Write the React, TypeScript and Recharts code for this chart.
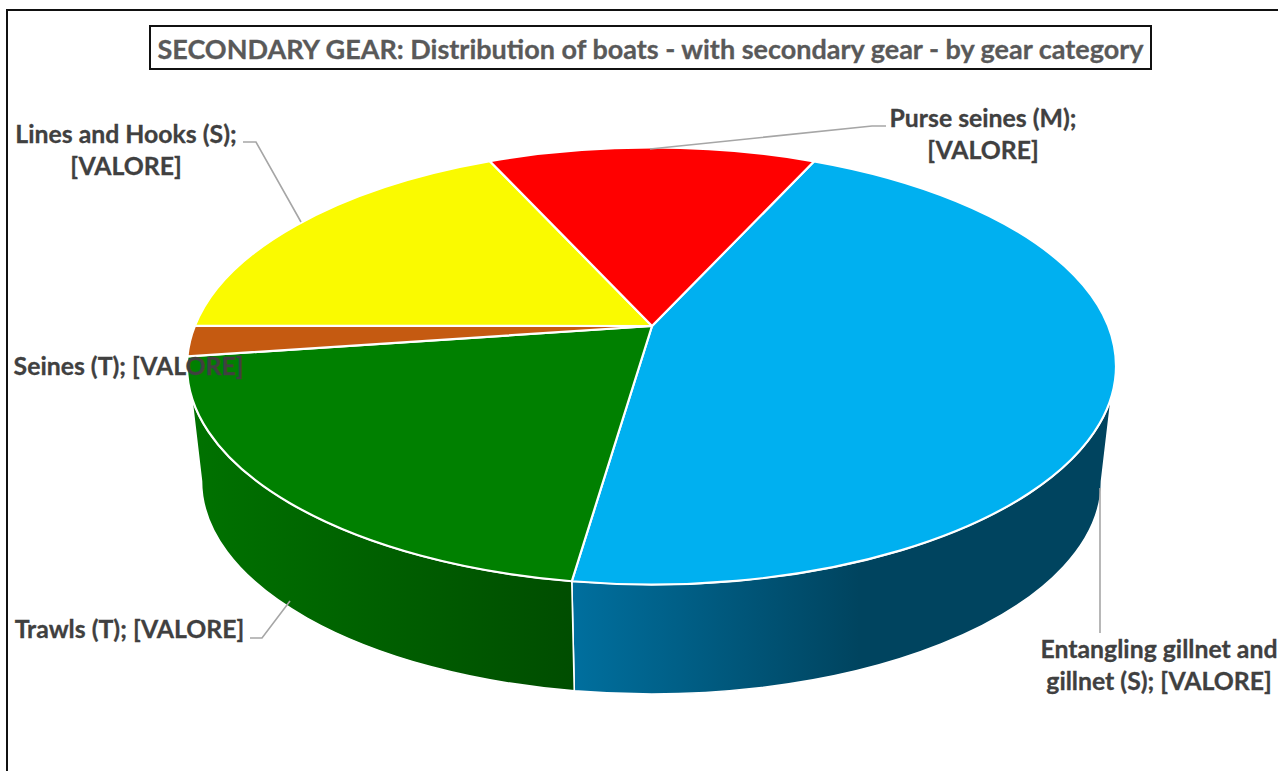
import React from "react";
import { PieChart, Pie } from "recharts";

const categories = [
  "Entangling gillnet and gillnet (S)",
  "Trawls (T)",
  "Seines (T)",
  "Lines and Hooks (S)",
  "Purse seines (M)",
];
const shares = [47.05, 22.95, 2.25, 16.4, 11.35];
const titleText = "SECONDARY GEAR: Distribution of boats - with secondary gear - by gear category";

const data = categories.map((name, i) => ({ name, value: shares[i] }));

const W = 1278;
const H = 771;
const topColors = ["#00B0F0", "#008000", "#C55A11", "#FAFA00", "#FF0000"];
const wallStops: Record<number, [number, string][]> = {
  0: [[574, "#006F9E"], [860, "#00445F"], [1113, "#00445F"]],
  1: [[190, "#007200"], [574, "#004D00"]],
};

const labelLayout = [
  { lines: ["Entangling gillnet and", "gillnet (S); [VALORE]"], x: 1159, y: [658, 690], leader: [[1100, 488], [1100, 633]] },
  { lines: ["Trawls (T); [VALORE]"], x: 129.5, y: [638], leader: [[250, 638], [262, 638], [290, 601]] },
  { lines: ["Seines (T); [VALORE]"], x: 128.5, y: [375], leader: [] },
  { lines: ["Lines and Hooks (S);", "[VALORE]"], x: 126, y: [143, 175], leader: [[243, 142], [256, 142], [301, 222]] },
  { lines: ["Purse seines (M);", "[VALORE]"], x: 983, y: [127, 159], leader: [[886, 126], [872, 126], [650, 149]] },
];

const CX = 651.5;
const CY = 366;
const R = 464.5;
const RY = 218.5;
const APEX_DY = -40;
const BOTTOM_DY = 115;
const BOTTOM_RX = 450;
const BOTTOM_RY = 213;
const WALL_HI = -8;
const WALL_LO = -172;
const rad = Math.PI / 180;

const TopShape = (p: any) => {
  const { cx, cy, outerRadius: r, startAngle: s, endAngle: e, index } = p;
  const ry = (r * RY) / R;
  const pt = (t: number) => `${cx + r * Math.cos(t * rad)} ${cy - ry * Math.sin(t * rad)}`;
  const large = Math.abs(s - e) > 180 ? 1 : 0;
  const d = `M ${cx + 0.5} ${cy + APEX_DY} L ${pt(s)} A ${r} ${ry} 0 ${large} 1 ${pt(e)} Z`;
  return <path d={d} fill={topColors[index]} stroke="#FFFFFF" strokeWidth={2.2} strokeLinejoin="round" />;
};

const WallShape = (p: any) => {
  const { cx, cy, outerRadius: r, startAngle: s, endAngle: e, index } = p;
  const hi = Math.min(s, WALL_HI);
  const lo = Math.max(e, WALL_LO);
  if (hi <= lo) return <g />;
  const ry = (r * RY) / R;
  const top = (t: number) => `${cx + r * Math.cos(t * rad)} ${cy - ry * Math.sin(t * rad)}`;
  const bot = (t: number) =>
    `${cx + BOTTOM_RX * Math.cos(t * rad)} ${cy + BOTTOM_DY - BOTTOM_RY * Math.sin(t * rad)}`;
  const bHi = hi === WALL_HI ? 0 : hi;
  const bLo = lo === WALL_LO ? -180 : lo;
  const d =
    `M ${top(hi)} A ${r} ${ry} 0 0 1 ${top(lo)} L ${bot(bLo)} ` +
    `A ${BOTTOM_RX} ${BOTTOM_RY} 0 0 0 ${bot(bHi)} Z`;
  const stops = wallStops[index] || [];
  const x0 = stops[0][0];
  const x1 = stops[stops.length - 1][0];
  return (
    <g>
      <defs>
        <linearGradient id={`wall${index}`} gradientUnits="userSpaceOnUse" x1={x0} x2={x1} y1={0} y2={0}>
          {stops.map(([x, c]) => (
            <stop key={x} offset={(x - x0) / (x1 - x0)} stopColor={c} />
          ))}
        </linearGradient>
      </defs>
      <path d={d} fill={`url(#wall${index})`} stroke="#FFFFFF" strokeWidth={1.6} strokeLinejoin="round" />
    </g>
  );
};

const renderLabel = (p: any) => {
  const l = labelLayout[p.index];
  return (
    <g>
      {l.leader.length > 0 && (
        <polyline
          points={l.leader.map((q) => q.join(",")).join(" ")}
          fill="none"
          stroke="#A6A6A6"
          strokeWidth={1.6}
        />
      )}
      {l.lines.map((t, i) => (
        <text
          key={i}
          x={l.x}
          y={l.y[i]}
          textAnchor="middle"
          fontFamily="Lato, sans-serif"
          fontWeight={700}
          fontSize={24.8}
          fill="#404040"
          stroke="#404040"
          strokeWidth={0.3}
        >
          {t}
        </text>
      ))}
    </g>
  );
};

export default function App() {
  return (
    <div style={{ position: "absolute", left: 0, top: 0, width: W, height: H, overflow: "hidden", background: "#fff" }}>
      <div
        style={{
          position: "absolute",
          left: 6,
          top: 9,
          width: W + 20,
          height: H + 20,
          border: "2px solid #111",
          boxSizing: "border-box",
        }}
      />
      <div style={{ position: "absolute", left: 0, top: 0 }}>
        <PieChart width={W} height={H} margin={{ top: 0, right: 0, bottom: 0, left: 0 }}>
          <Pie
            data={data}
            dataKey="value"
            nameKey="name"
            cx={CX}
            cy={CY}
            outerRadius={R}
            startAngle={69.5}
            endAngle={-290.5}
            shape={WallShape}
            label={false}
            labelLine={false}
            isAnimationActive={false}
          />
          <Pie
            data={data}
            dataKey="value"
            nameKey="name"
            cx={CX}
            cy={CY}
            outerRadius={R}
            startAngle={69.5}
            endAngle={-290.5}
            shape={TopShape}
            label={renderLabel}
            labelLine={false}
            isAnimationActive={false}
          />
        </PieChart>
      </div>
      <div
        style={{
          position: "absolute",
          left: 149,
          top: 25,
          width: 1003,
          height: 45,
          border: "2px solid #111",
          boxSizing: "border-box",
          background: "#fff",
          color: "#595959",
          fontFamily: "Lato, sans-serif",
          fontWeight: 700,
          fontSize: 27,
          lineHeight: "44px",
          textAlign: "center",
          whiteSpace: "nowrap",
          WebkitTextStroke: "0.3px #595959",
        }}
      >
        {titleText}
      </div>
    </div>
  );
}
